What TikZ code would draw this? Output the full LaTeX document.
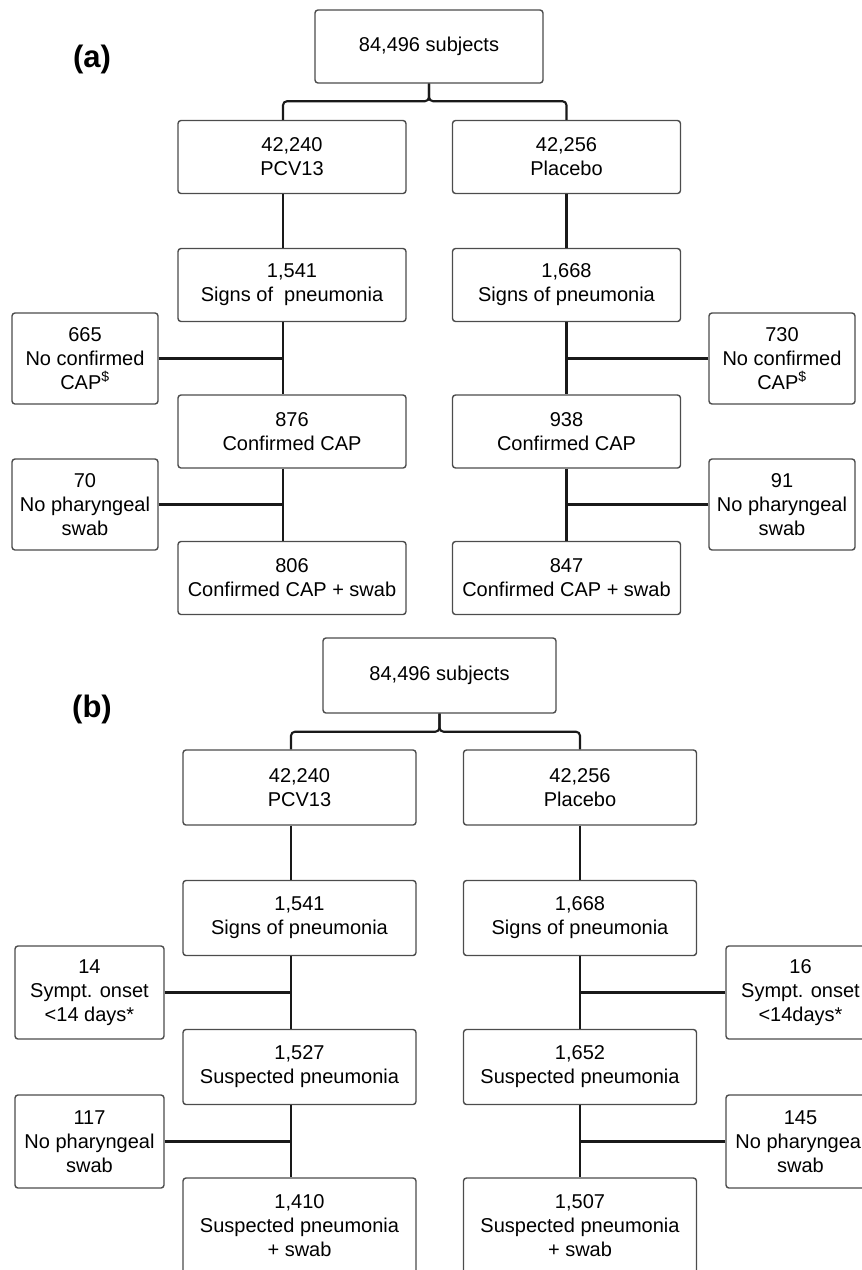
\documentclass[tikz,border=0pt]{standalone}
\usepackage{fontspec}
\setmainfont{Liberation Sans}

\begin{document}
\begin{tikzpicture}[x=1pt,y=-1pt]
\tikzstyle{every node}+=[inner sep=0pt, align=center, font=\fontsize{20}{24}\selectfont]
\tikzstyle{box}=[draw=black!70, line width=1.4pt, rounded corners=3pt]
\tikzstyle{mainA}=[box, minimum width=228pt, minimum height=73pt]
\tikzstyle{sideA}=[box, minimum width=146pt, minimum height=91pt]
\tikzstyle{mainB}=[box, minimum width=233pt, minimum height=75pt]
\tikzstyle{sideB}=[box, minimum width=149pt, minimum height=93pt]
\tikzstyle{conn}=[black!90, line width=2.1pt]
\tikzstyle{panel}=[font=\fontsize{31}{36}\selectfont\bfseries]
\useasboundingbox (0,0) rectangle (862,1270);
% (a)
\node [panel] (pa) at (92,59) {(a)};
\node [mainA] (a0) at (429,46.5) {84,496 subjects};
\node [mainA] (a1) at (292,157) {42,240\\PCV13};
\node [mainA] (a2) at (566.5,157) {42,256\\Placebo};
\node [mainA] (a3) at (292,285) {1,541\\Signs of\ \ pneumonia};
\node [mainA] (a4) at (566.5,285) {1,668\\Signs of pneumonia};
\node [sideA] (aL1) at (85,358.5) {665\\No confirmed\\CAP\textsuperscript{\$}};
\node [sideA] (aR1) at (782,358.5) {730\\No confirmed\\CAP\textsuperscript{\$}};
\node [mainA] (a5) at (292,431.5) {876\\Confirmed CAP};
\node [mainA] (a6) at (566.5,431.5) {938\\Confirmed CAP};
\node [sideA] (aL2) at (85,504.5) {70\\No pharyngeal\\swab};
\node [sideA] (aR2) at (782,504.5) {91\\No pharyngeal\\swab};
\node [mainA] (a7) at (292,578) {806\\Confirmed CAP + swab};
\node [mainA] (a8) at (566.5,578) {847\\Confirmed CAP + swab};
\coordinate (aLx) at (283,0);
\coordinate (aRx) at (566.5,0);
\draw [conn, rounded corners=4pt] (a0.south) -- ([yshift=-17.5pt]a0.south) -| (a1.north -| aLx);
\draw [conn, rounded corners=4pt] (a0.south) -- ([yshift=-17.5pt]a0.south) -| (a2.north -| aRx);
\draw [conn] (a1.south -| aLx) -- (a3.north -| aLx);
\draw [conn] (a2.south -| aRx) -- (a4.north -| aRx);
\draw [conn] (a3.south -| aLx) -- (a5.north -| aLx);
\draw [conn] (a4.south -| aRx) -- (a6.north -| aRx);
\draw [conn] (a5.south -| aLx) -- (a7.north -| aLx);
\draw [conn] (a6.south -| aRx) -- (a8.north -| aRx);
\draw [conn] (aL1.east) -- (aL1.east -| aLx);
\draw [conn] (aR1.west) -- (aR1.west -| aRx);
\draw [conn] (aL2.east) -- (aL2.east -| aLx);
\draw [conn] (aR2.west) -- (aR2.west -| aRx);
% (b)
\node [panel] (pb) at (92,709) {(b)};
\node [mainB] (b0) at (439.5,675.5) {84,496 subjects};
\node [mainB] (b1) at (299.5,787.5) {42,240\\PCV13};
\node [mainB] (b2) at (580,787.5) {42,256\\Placebo};
\node [mainB] (b3) at (299.5,918) {1,541\\Signs of pneumonia};
\node [mainB] (b4) at (580,918) {1,668\\Signs of pneumonia};
\node [sideB] (bL1) at (89.5,992.5) {14\\Sympt. onset\\<14 days*};
\node [sideB] (bR1) at (800.5,992.5) {16\\Sympt. onset\\<14days*};
\node [mainB] (b5) at (299.5,1067) {1,527\\Suspected pneumonia};
\node [mainB] (b6) at (580,1067) {1,652\\Suspected pneumonia};
\node [sideB] (bL2) at (89.5,1141.5) {117\\No pharyngeal\\swab};
\node [sideB] (bR2) at (800.5,1141.5) {145\\No pharyngeal\\swab};
\node [mainB, minimum height=96pt] (b7) at (299.5,1226) {1,410\\Suspected pneumonia\\+ swab};
\node [mainB, minimum height=96pt] (b8) at (580,1226) {1,507\\Suspected pneumonia\\+ swab};
\coordinate (bLx) at (291,0);
\coordinate (bRx) at (580,0);
\draw [conn, rounded corners=4pt] (b0.south) -- ([yshift=-18pt]b0.south) -| (b1.north -| bLx);
\draw [conn, rounded corners=4pt] (b0.south) -- ([yshift=-18pt]b0.south) -| (b2.north -| bRx);
\draw [conn] (b1.south -| bLx) -- (b3.north -| bLx);
\draw [conn] (b2.south -| bRx) -- (b4.north -| bRx);
\draw [conn] (b3.south -| bLx) -- (b5.north -| bLx);
\draw [conn] (b4.south -| bRx) -- (b6.north -| bRx);
\draw [conn] (b5.south -| bLx) -- (b7.north -| bLx);
\draw [conn] (b6.south -| bRx) -- (b8.north -| bRx);
\draw [conn] (bL1.east) -- (bL1.east -| bLx);
\draw [conn] (bR1.west) -- (bR1.west -| bRx);
\draw [conn] (bL2.east) -- (bL2.east -| bLx);
\draw [conn] (bR2.west) -- (bR2.west -| bRx);
\end{tikzpicture}
\end{document}
